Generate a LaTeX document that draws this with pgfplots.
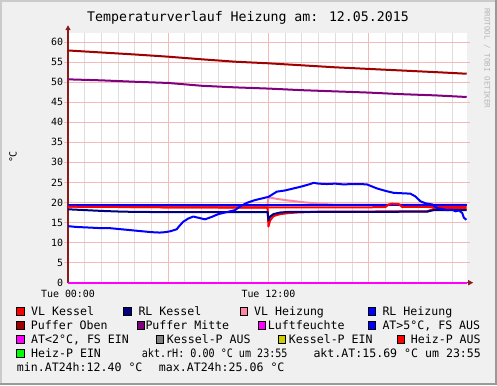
\documentclass[border=0pt]{standalone}
\usepackage{fontspec}
\setmainfont{DejaVu Sans Mono}
\usepackage{graphicx}
\usepackage{pgfplots}
\pgfplotsset{compat=1.18}
\usetikzlibrary{arrows.meta}
\definecolor{bgc}{HTML}{F0F0F0}
\definecolor{shadeA}{HTML}{CBCBCB}
\definecolor{shadeB}{HTML}{999999}
\definecolor{mgrid}{RGB}{242,186,186}
\definecolor{mingrid}{RGB}{222,222,222}
\definecolor{axc}{HTML}{8B1A1A}
\definecolor{cVLK}{HTML}{FF0000}
\definecolor{cRLK}{HTML}{000080}
\definecolor{cVLH}{HTML}{FF85A5}
\definecolor{cRLH}{HTML}{0000FF}
\definecolor{cPO}{HTML}{A00000}
\definecolor{cPM}{HTML}{800080}
\definecolor{cLF}{HTML}{FF00FF}
\definecolor{cAT}{HTML}{0000FF}
\definecolor{cATl}{HTML}{FF00FF}
\definecolor{cKA}{HTML}{808080}
\definecolor{cKE}{HTML}{CCCC00}
\definecolor{cHA}{HTML}{FF0000}
\definecolor{cHE}{HTML}{00FF00}
\newcommand{\lgfont}{\fontsize{11.63}{14}\selectfont}
\begin{document}
\begin{tikzpicture}[x=1bp,y=1bp]
\useasboundingbox (0,0) rectangle (497,385);
\fill[bgc] (0,0) rectangle (497,385);
\fill[shadeA] (0,0) rectangle (2,385);
\fill[shadeA] (0,383) rectangle (497,385);
\fill[shadeB] (495,0) rectangle (497,385);
\fill[shadeB] (0,0) rectangle (497,2);
% title
\node[anchor=base, inner sep=0pt, font=\fontsize{13.29}{16}\selectfont] at (248,363.7) {Temperaturverlauf Heizung am: 12.05.2015};
% watermark
\node[anchor=west, rotate=-90, inner sep=0pt, text=shadeA!90!black, font=\fontsize{7.6}{8}\selectfont] at (487,377) {RRDTOOL / TOBI OETIKER};
% y label
\node[rotate=90, inner sep=0pt, font=\fontsize{9.97}{12}\selectfont] at (13,228) {°C};
\begin{axis}[
  at={(68bp,102.3bp)}, anchor=south west, scale only axis,
  width=398.7bp, height=250bp,
  xmin=0, xmax=23.87, ymin=0, ymax=62.33,
  clip=false,
  axis background/.style={fill=white},
  axis line style={draw=none},
  xtick={0,6,12,18},
  xticklabels={Tue 00:00,,Tue 12:00,},
  minor xtick={1,2,3,4,5,7,8,9,10,11,13,14,15,16,17,19,20,21,22,23},
  ytick={0,5,10,15,20,25,30,35,40,45,50,55,60},
  tick style={draw=none},
  xmajorgrids, xminorgrids, ymajorgrids,
  major grid style={color=mgrid, line width=0.9bp},
  minor grid style={color=mingrid, line width=0.9bp},
  ticklabel style={font=\fontsize{9.97}{12}\selectfont},
  /pgf/number format/assume math mode=true,
  yticklabel style={anchor=east, xshift=-1.5bp},
  xticklabel style={anchor=base, yshift=-14.5bp},
  every axis plot/.append style={line width=2bp, line join=round},
]
% grid extensions
\foreach \v in {5,10,...,60} {
  \edef\tmp{\noexpand\draw[mgrid, line width=0.9bp] ([xshift=-4bp]axis cs:0,\v) -- (axis cs:0,\v);
  \noexpand\draw[mgrid, line width=0.9bp] (axis cs:23.87,\v) -- ([xshift=3.5bp]axis cs:23.87,\v);}\tmp
}
\draw[axc, line width=1.2bp, -{Triangle[length=5bp,width=5bp]}] (axis cs:0,0) -- ([yshift=7.5bp]axis cs:0,62.33);
\draw[axc, line width=1.2bp, -{Triangle[length=5bp,width=5bp]}] (axis cs:0,0) -- ([xshift=6.5bp]axis cs:23.87,0);
% VL Heizung (pink)
\addplot[cVLH] coordinates {(0,19.1) (11.95,19.1) (12.0,21.3) (12.5,20.9) (13,20.6) (14,20.1) (15,19.7) (16,19.45) (23.87,19.45)};
% VL Kessel
\addplot[cVLK] coordinates {(0,19.0) (6,18.8) (11.95,18.7) (12.0,14.0) (12.1,15.5) (12.3,16.6) (12.7,17.1) (13.2,17.35) (13.7,17.5) (15,17.7) (21.5,17.8) (21.9,18.4) (23.87,18.4)};
% RL Kessel
\addplot[cRLK] coordinates {(0,18.3) (1,18.1) (2,17.9) (3,17.75) (4,17.65) (6,17.6) (11.95,17.6) (12.0,15.6) (12.1,16.5) (12.3,17.1) (12.7,17.5) (13.2,17.65) (21.5,17.7) (21.9,18.1) (23.87,18.1)};
% RL Heizung
\addplot[cRLH] coordinates {(0,19.45) (23.87,19.45)};
% Heiz-P AUS (red level)
\addplot[cHA] coordinates {(0,18.95) (6,18.8) (12,18.75) (18,18.8) (19.0,18.85) (19.2,19.5) (19.4,19.7) (19.8,19.6) (20.0,18.9) (23.87,18.9)};
% Puffer Oben
\addplot[cPO] coordinates {(0,57.9) (2,57.4) (4,56.9) (6,56.35) (8,55.7) (10,55.1) (12,54.7) (14,54.2) (16,53.7) (18,53.3) (20,52.9) (22,52.5) (23.87,52.1)};
% Puffer Mitte
\addplot[cPM] coordinates {(0,50.7) (2,50.45) (4,50.1) (6,49.8) (8,49.1) (10,48.7) (12,48.4) (14,48.0) (16,47.7) (18,47.4) (20,47.0) (22,46.7) (23.87,46.3)};
% Luftfeuchte
\addplot[cLF] coordinates {(0,0) (23.87,0)};
% AT
\addplot[cAT] coordinates {(0,14.1) (0.5,13.9) (1,13.8) (1.5,13.7) (2,13.6) (2.5,13.6) (3,13.4) (3.5,13.2) (4,13.0) (4.5,12.8) (5,12.6) (5.5,12.5) (5.8,12.6) (6.1,12.8) (6.5,13.3) (6.7,14.3) (6.9,15.2) (7.2,16.0) (7.5,16.5) (7.8,16.2) (8.2,15.8) (8.6,16.4) (9,17.1) (9.5,17.6) (10,18.1) (10.3,19.0) (10.7,19.9) (11.2,20.6) (11.6,21.0) (12,21.4) (12.5,22.7) (13,23.0) (13.5,23.5) (14,24.0) (14.5,24.6) (14.7,24.9) (15,24.7) (15.5,24.6) (16,24.7) (16.5,24.5) (17,24.6) (17.5,24.6) (17.9,24.5) (18.2,24.0) (18.5,23.5) (19,22.9) (19.5,22.4) (20,22.3) (20.5,22.2) (20.8,21.5) (21.1,20.3) (21.4,19.8) (21.8,19.5) (22.1,18.6) (22.4,18.4) (22.7,18.1) (23,18.2) (23.2,17.8) (23.4,18.0) (23.6,17.4) (23.7,16.2) (23.85,15.7)};
\end{axis}
% legend
\newcommand{\lbox}[3]{\filldraw[fill=#3, draw=black, line width=0.8bp] (#1-3.8,#2-3.8) rectangle (#1+3.8,#2+3.8);}
\newcommand{\ltext}[3]{\node[anchor=base west, inner sep=0pt, font=\lgfont] at (#1,#2) {#3};}
% row 1 (center y = 385-311.3 = 73.7)
\lbox{20.2}{73.7}{cVLK}\ltext{31}{69.5}{VL Kessel}
\lbox{127.3}{73.7}{cRLK}\ltext{138.3}{69.5}{RL Kessel}
\lbox{244}{73.7}{cVLH}\ltext{254}{69.5}{VL Heizung}
\lbox{372}{73.7}{cRLH}\ltext{382.3}{69.5}{RL Heizung}
% row 2
\lbox{20.2}{59.7}{cPO}\ltext{30.7}{55.5}{Puffer Oben}
\lbox{140.7}{59.7}{cPM}\ltext{145.3}{55.5}{Puffer Mitte}
\lbox{261.7}{59.7}{cLF}\ltext{267.7}{55.5}{Luftfeuchte}
\lbox{372}{59.7}{cAT}\ltext{382.3}{55.5}{AT>5°C, FS AUS}
% row 3
\lbox{20.2}{45.7}{cATl}\ltext{31}{41.5}{AT<2°C, FS EIN}
\lbox{160}{45.7}{cKA}\ltext{166.7}{41.5}{Kessel-P AUS}
\lbox{281.7}{45.7}{cKE}\ltext{288.7}{41.5}{Kessel-P EIN}
\lbox{400.7}{45.7}{cHA}\ltext{410.7}{41.5}{Heiz-P AUS}
% row 4
\lbox{20.2}{31.7}{cHE}\ltext{31}{27.5}{Heiz-P EIN}
\ltext{141.7}{27.5}{\scalebox{0.87}[1]{akt.rH: 0.00 °C um 23:55}}
\ltext{313.3}{27.5}{akt.AT:15.69 °C um 23:55}
% row 5
\ltext{16.7}{13.5}{min.AT24h:12.40 °C}
\ltext{158.7}{13.5}{max.AT24h:25.06 °C}
\end{tikzpicture}
\end{document}
